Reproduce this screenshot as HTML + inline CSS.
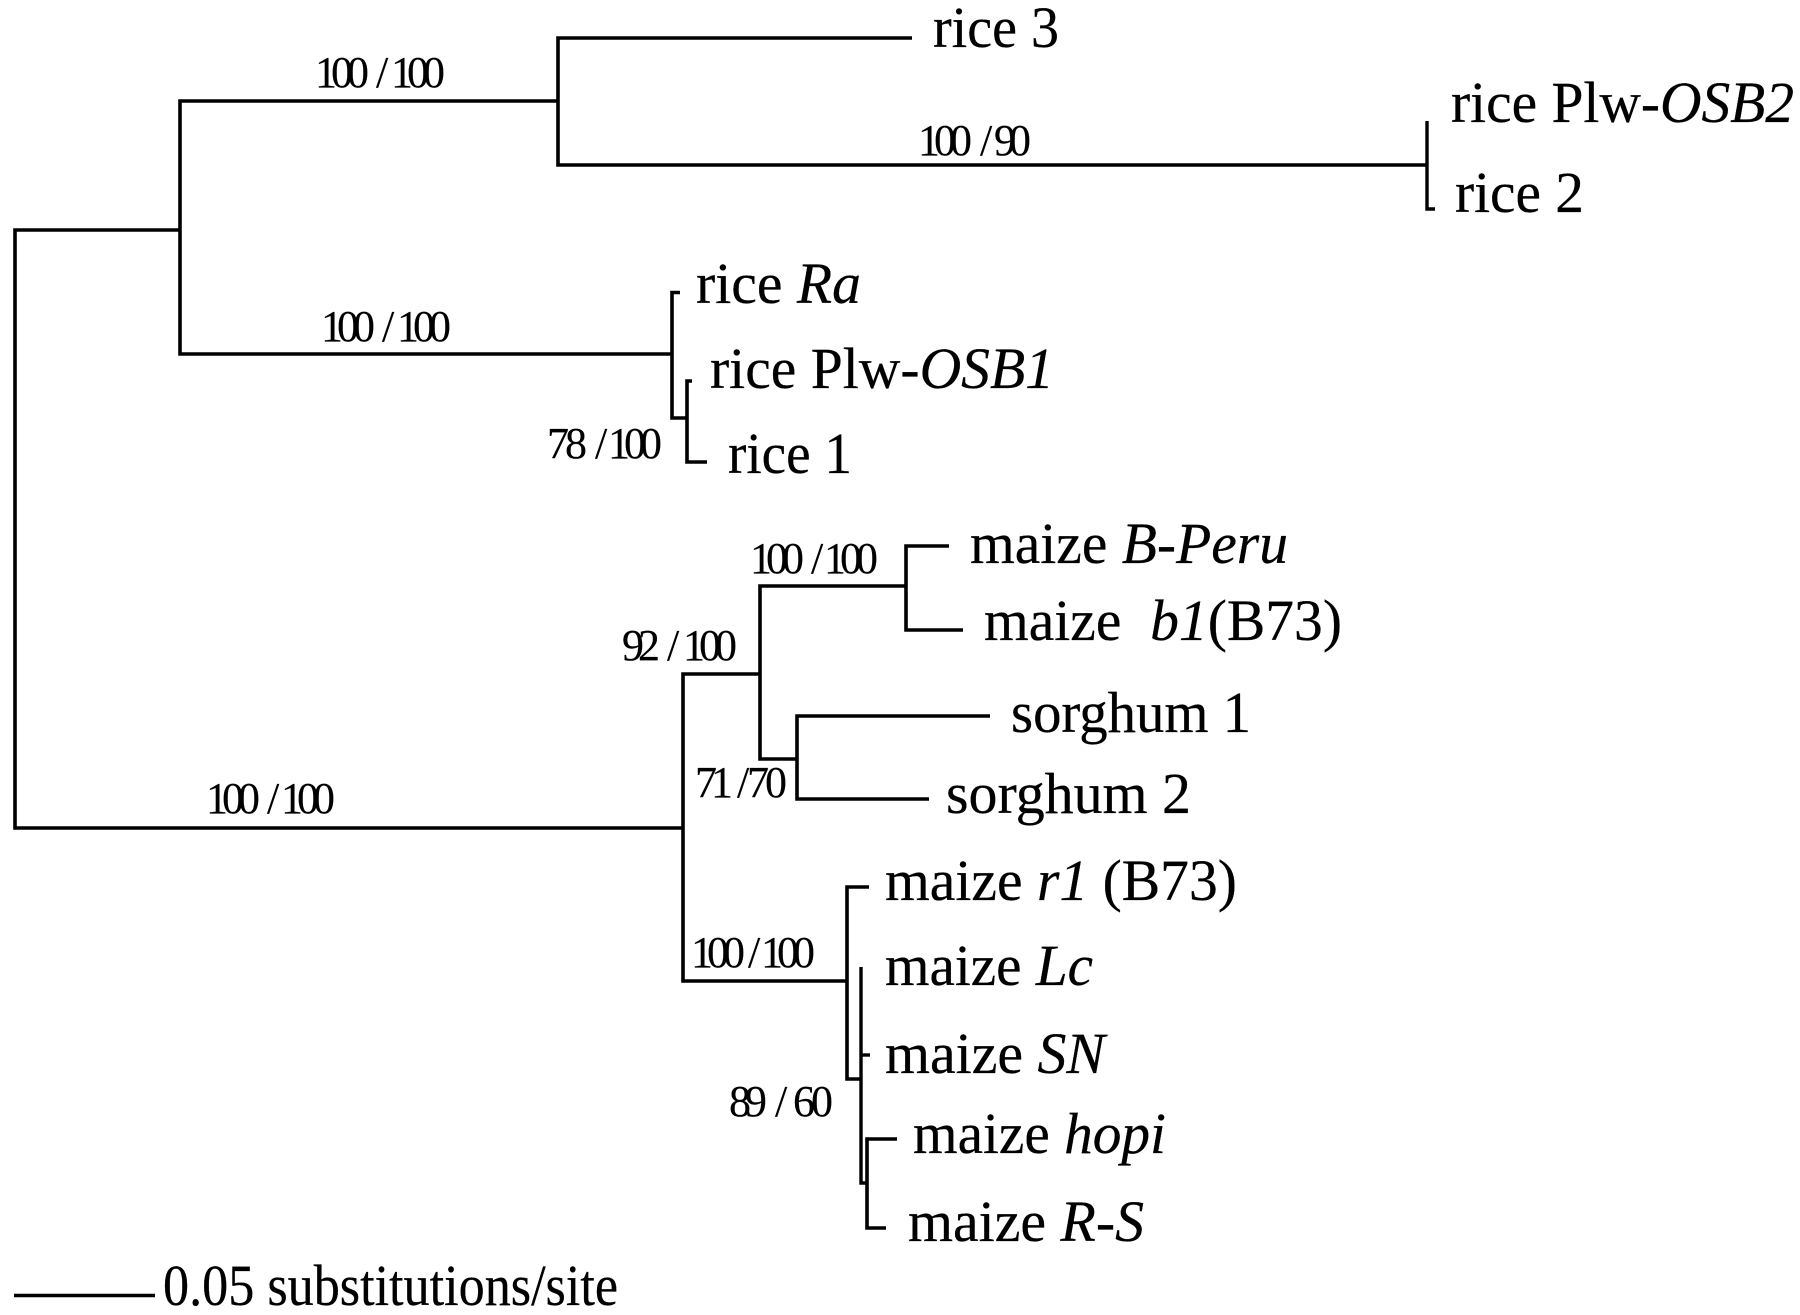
<!DOCTYPE html>
<html>
<head>
<meta charset="utf-8">
<title>Phylogenetic tree</title>
<style>
html,body{margin:0;padding:0;background:#fff;width:1800px;height:1315px;overflow:hidden}
svg{display:block}
text{font-family:"Liberation Serif",serif;fill:#000}
.l{font-size:58px;stroke:#000;stroke-width:.25}
.s{font-size:44px;stroke:#000;stroke-width:.15}
.a{letter-spacing:-6px}
.b{letter-spacing:-6px}
.c{letter-spacing:-4px}
.i{font-style:italic}
path{fill:none;stroke:#000;stroke-width:3.6;stroke-linejoin:miter;stroke-linecap:butt}
path.t{stroke-width:3.4}
</style>
</head>
<body>
<svg width="1800" height="1315" viewBox="0 0 1800 1315" xmlns="http://www.w3.org/2000/svg">
<rect width="1800" height="1315" fill="#fff"/>
<!-- root -->
<path d="M180 230H15V828H683"/>
<!-- rice clade -->
<path d="M558 101H180V354H672"/>
<path d="M912 38H558V165H1427"/>
<path class="t" d="M1427 121V209H1435"/>
<path d="M680 292.500H672V418H687"/>
<path d="M692 381H687V462H707"/>
<!-- lower -->
<path d="M760 674H683V981H847"/>
<path d="M906 586H760V759H797"/>
<path d="M949 546H906V630H963"/>
<path d="M990 716H797V799H929"/>
<path d="M869 887H847V1079H861"/>
<path class="t" d="M861 967V1183H867"/>
<path class="t" d="M861 1055H870"/>
<path d="M897 1139H867V1228H886"/>
<!-- scale -->
<path d="M14 1295.500H155"/>

<!-- taxon labels -->
<text class="l" x="933" y="47" textLength="126" lengthAdjust="spacingAndGlyphs">rice 3</text>
<text class="l" x="1451" y="122" textLength="343" lengthAdjust="spacingAndGlyphs">rice Plw-<tspan class="i">OSB2</tspan></text>
<text class="l" x="1455" y="212" textLength="129" lengthAdjust="spacingAndGlyphs">rice 2</text>
<text class="l" x="696" y="303" textLength="165" lengthAdjust="spacingAndGlyphs">rice <tspan class="i">Ra</tspan></text>
<text class="l" x="710" y="388" textLength="344" lengthAdjust="spacingAndGlyphs">rice Plw-<tspan class="i">OSB1</tspan></text>
<text class="l" x="728" y="473" textLength="124" lengthAdjust="spacingAndGlyphs">rice 1</text>
<text class="l" x="970" y="563" textLength="318" lengthAdjust="spacingAndGlyphs">maize <tspan class="i">B-Peru</tspan></text>
<text class="l" x="984" y="640" textLength="358" lengthAdjust="spacingAndGlyphs">maize&#160; <tspan class="i">b1</tspan>(B73)</text>
<text class="l" x="1011" y="732" textLength="240" lengthAdjust="spacingAndGlyphs">sorghum 1</text>
<text class="l" x="946" y="813" textLength="245" lengthAdjust="spacingAndGlyphs">sorghum 2</text>
<text class="l" x="885" y="900" textLength="352" lengthAdjust="spacingAndGlyphs">maize <tspan class="i">r1</tspan> (B73)</text>
<text class="l" x="885" y="985" textLength="208" lengthAdjust="spacingAndGlyphs">maize <tspan class="i">Lc</tspan></text>
<text class="l" x="885" y="1073" textLength="220" lengthAdjust="spacingAndGlyphs">maize <tspan class="i">SN</tspan></text>
<text class="l" x="913" y="1153" textLength="253" lengthAdjust="spacingAndGlyphs">maize <tspan class="i">hopi</tspan></text>
<text class="l" x="908" y="1241" textLength="236" lengthAdjust="spacingAndGlyphs">maize <tspan class="i">R-S</tspan></text>
<text class="l" x="163" y="1305" textLength="455" lengthAdjust="spacingAndGlyphs">0.05 substitutions/site</text>

<!-- support values -->
<text class="s a" x="315" y="87">100</text><text class="s" x="376" y="87">/</text><text class="s a" x="391" y="87">100</text>
<text class="s a" x="321" y="341">100</text><text class="s" x="382" y="341">/</text><text class="s a" x="397" y="341">100</text>
<text class="s c" x="547" y="458">78</text><text class="s" x="595" y="458">/</text><text class="s a" x="608" y="458">100</text>
<text class="s a" x="750" y="573">100</text><text class="s" x="811" y="573">/</text><text class="s a" x="824" y="573">100</text>
<text class="s b" x="622" y="660">92</text><text class="s" x="667" y="660">/</text><text class="s a" x="683" y="660">100</text>
<text class="s a" x="918" y="155">100</text><text class="s" x="980" y="155">/</text><text class="s" x="994" y="155" style="letter-spacing:-7px">90</text>
<text class="s a" x="206" y="813">100</text><text class="s" x="267" y="813">/</text><text class="s a" x="281" y="813">100</text>
<text class="s a" x="695" y="797">71</text><text class="s" x="737" y="797">/</text><text class="s c" x="747" y="797">70</text>
<text class="s a" x="691" y="967">100</text><text class="s" x="748" y="967">/</text><text class="s a" x="761" y="967">100</text>
<text class="s b" x="729" y="1116">89</text><text class="s" x="775" y="1116">/</text><text class="s c" x="793" y="1116">60</text>
</svg>
</body>
</html>
